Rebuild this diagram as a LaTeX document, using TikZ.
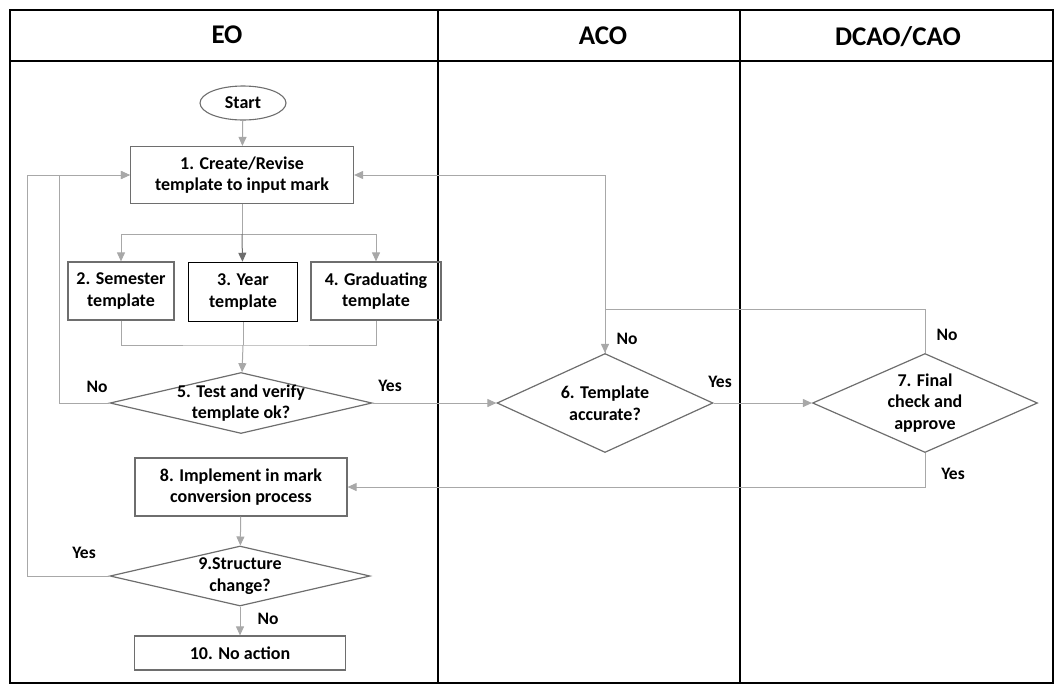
\documentclass[tikz,border=0pt]{standalone}
\usepackage{fontspec}
\setmainfont{Carlito}
\usetikzlibrary{arrows.meta, shapes.geometric}

\definecolor{linegray}{HTML}{A8A8A8}
\definecolor{edgegray}{HTML}{6E6E6E}

\tikzset{
    lane/.style={draw=black, line width=1.8pt},
    proc/.style={rectangle, draw=edgegray, line width=1.2pt, align=center, inner sep=0pt},
    dec/.style={diamond, draw=edgegray, line width=1.2pt, inner sep=0pt},
    term/.style={ellipse, draw=edgegray, line width=1.1pt, inner sep=0pt},
    line/.style={draw=linegray, line width=1pt},
    flow/.style={line, -{Triangle[length=9pt, width=8pt]}},
    answer/.style={font=\fontsize{17.5}{20}\selectfont\bfseries}
}

\begin{document}
\begin{tikzpicture}[x=1pt, y=-1pt,
        every node/.style={font=\fontsize{18}{21.5}\selectfont\bfseries}]

    \useasboundingbox (0,0) rectangle (1056,686);

% ---------- swim lanes ----------
    \draw[lane] (10,10) rectangle (1053,683);
    \draw[lane] (10,61) -- (1053,61);
    \draw[lane] (438,10) -- (438,683);
    \draw[lane] (740,10) -- (740,683);
    \node[font=\fontsize{27}{30}\selectfont\bfseries] (hEO) at (227,35) {EO};
    \node[font=\fontsize{27}{30}\selectfont\bfseries] (hACO) at (603,36) {ACO};
    \node[font=\fontsize{27}{30}\selectfont\bfseries] (hDCAO) at (898,37) {DCAO/CAO};

% ---------- EO lane ----------
    \node[term, minimum width=86pt, minimum height=34pt] (start) at (243,103) {Start};
    \node[proc, minimum width=223pt, minimum height=57pt] (create) at (242,175)
        {1. Create/Revise\\template to input mark};

    \node[proc, minimum width=106pt, minimum height=58pt] (semester) at (121,291)
        {2. Semester\\template};
    \node[proc, draw=black, line width=1.5pt, minimum width=109pt, minimum height=59pt] (year) at (243,292)
        {3. Year\\template};
    \node[proc, minimum width=130pt, minimum height=58pt] (grad) at (376,291)
        {4. Graduating\\template};

    \node[dec, minimum width=262pt, minimum height=61pt,
        label={[align=center]center:5. Test and verify\\template ok?}] (test) at (241,403) {};

    \node[proc, minimum width=212pt, minimum height=58pt] (implement) at (241,487)
        {8. Implement in mark\\conversion process};
    \node[dec, minimum width=260pt, minimum height=60pt,
        label={[align=center]center:9.Structure\\change?}] (structure) at (240,576) {};
    \node[proc, minimum width=211pt, minimum height=34pt] (noaction) at (240,653)
        {10. No action};

% ---------- ACO and DCAO/CAO lanes ----------
    \node[dec, minimum width=216pt, minimum height=99pt,
        label={[align=center]center:6. Template\\accurate?}] (accurate) at (605,403) {};
    \node[dec, minimum width=225pt, minimum height=99pt,
        label={[align=center]center:7. Final\\check and\\approve}] (approve) at (925,403) {};

% ---------- connectors ----------
    \draw[flow] (start) -- (create);
    \draw[line] (create.south) -- ++(0,30) coordinate (split);
    \draw[flow] (split) -| (semester);
    \draw[flow] (split) -| (grad);
    \draw[line, -{Triangle[length=9pt, width=8pt]}, draw=edgegray] (split) -- (year);

    \coordinate (merge) at (243,345);
    \draw[line] (semester) |- (merge) -| (grad);
    \draw[line] (year) -- (merge);
    \draw[flow] (merge) -- (test);

    \draw[flow] (test.west) -- ++(-50,0) |- (create.west);
    \draw[flow] (test.east) -- (accurate.west);
    \draw[flow] (accurate.north) |- (create.east);
    \draw[flow] (approve.north) -- ++(0,-43) -| (accurate.north);
    \draw[flow] (accurate.east) -- (approve.west);
    \draw[flow] (approve.south) |- (implement.east);
    \draw[flow] (implement) -- (structure);
    \draw[flow] (structure.west) -- ++(-82,0) |- (create.west);
    \draw[flow] (structure) -- (noaction);

% ---------- answers ----------
    \node[answer] (noTest) at (97,387) {No};
    \node[answer] (yesTest) at (390,386) {Yes};
    \node[answer] (noAcc) at (627,339) {No};
    \node[answer] (yesAcc) at (720,382) {Yes};
    \node[answer] (noApp) at (947,335) {No};
    \node[answer] (yesApp) at (953,474) {Yes};
    \node[answer] (yesStr) at (84,553) {Yes};
    \node[answer] (noStr) at (268,619) {No};

\end{tikzpicture}
\end{document}
